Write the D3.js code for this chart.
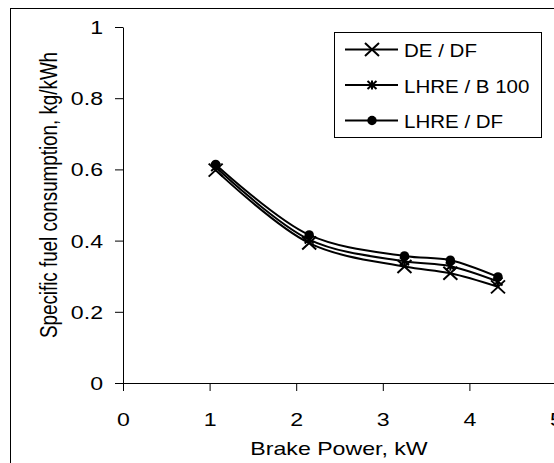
<!DOCTYPE html>
<html>
<head>
<meta charset="utf-8">
<script src="https://cdn.jsdelivr.net/npm/d3@7"></script>
<style>
  body { margin: 0; background: #fff; }
  text { font-family: "Liberation Sans", Arial, sans-serif; fill: #000; }
</style>
</head>
<body>
<svg id="chart" width="554" height="463"></svg>
<script>
// brake power, kW
var power = [1.07, 2.15, 3.25, 3.78, 4.33]
var deDF = [0.598, 0.393, 0.327, 0.308, 0.27]
var lhreB100 = [0.607, 0.403, 0.342, 0.328, 0.285]
var lhreDF = [0.614, 0.416, 0.357, 0.345, 0.298]
var seriesNames = ["DE / DF", "LHRE / B 100", "LHRE / DF"]
var markers = ["cross", "star", "dot"]
var xTicks = [0, 1, 2, 3, 4, 5]
var yTicks = [0, 0.2, 0.4, 0.6, 0.8, 1]

var series = [deDF, lhreB100, lhreDF].map((vals, i) => ({
    name: seriesNames[i], marker: markers[i],
    points: vals.map((v, j) => ({x: power[j], y: v}))
}))

// the source picture is stretched sideways, so the text is too
var stretch = 1.25

var svg = d3.select("#chart")

// outer chart frame (cut off at right/bottom like the source)
svg.append("rect")
    .attr("x", 10.5).attr("y", 8.5)
    .attr("width", 600).attr("height", 500)
    .attr("fill", "none").attr("stroke", "#000").attr("stroke-width", 1)

var x = d3.scaleLinear().domain([0, 5]).range([123, 556])
var y = d3.scaleLinear().domain([0, 1]).range([383, 27])

svg.append("g")
    .attr("transform", "translate(0," + y(0) + ")")
    .call(d3.axisBottom(x).tickValues(xTicks).tickFormat(d3.format("d")).tickSize(8).tickSizeOuter(0))
    .call(g => g.selectAll("text")
        .attr("y", 43).attr("dy", 0)
        .attr("transform", "scale(" + stretch + ",1)")
        .style("font-size", "18.5px"))

svg.append("g")
    .attr("transform", "translate(" + x(0) + ",0)")
    .call(d3.axisLeft(y).tickValues(yTicks).tickFormat(d => d == 0 || d == 1 ? d : d.toFixed(1)).tickSize(8).tickSizeOuter(0))
    .call(g => g.selectAll("text")
        .attr("x", -20 / stretch).attr("dy", "0.35em")
        .attr("transform", "scale(" + stretch + ",1)")
        .style("font-size", "18.5px"))

svg.selectAll(".domain, .tick line").attr("stroke", "#000")

svg.append("text")
    .attr("transform", "translate(339,455) scale(" + stretch + ",1)")
    .attr("text-anchor", "middle")
    .style("font-size", "18.5px")
    .text("Brake Power, kW")

svg.append("text")
    .attr("transform", "translate(57,195) rotate(-90) scale(1," + stretch + ")")
    .attr("text-anchor", "middle")
    .style("font-size", "18.8px")
    .text("Specific fuel consumption, kg/kWh")

var line = d3.line()
    .x(d => x(d.x))
    .y(d => y(d.y))
    .curve(d3.curveCatmullRom.alpha(0.5))

function drawMarker(g, type) {
    if (type == "cross") {
        g.append("path").attr("d", "M-7,-6.5L7,6.5M-7,6.5L7,-6.5")
            .attr("stroke", "#000").attr("stroke-width", 2)
    } else if (type == "star") {
        g.append("path").attr("d", "M-4.5,-4L4.5,4M-4.5,4L4.5,-4M0,-4.5L0,4.5")
            .attr("stroke", "#000").attr("stroke-width", 2)
    } else {
        g.append("circle").attr("r", 4.7).attr("fill", "#000")
    }
}

series.forEach(s => {
    svg.append("path")
        .datum(s.points)
        .attr("d", line)
        .attr("fill", "none")
        .attr("stroke", "#000")
        .attr("stroke-width", 2)
    s.points.forEach(p => {
        var g = svg.append("g").attr("transform", "translate(" + x(p.x) + "," + y(p.y) + ")")
        drawMarker(g, s.marker)
    })
})

// legend
var legend = svg.append("g")
legend.append("rect")
    .attr("x", 334.5).attr("y", 32.5)
    .attr("width", 207).attr("height", 105)
    .attr("fill", "#fff").attr("stroke", "#000").attr("stroke-width", 1)

series.forEach((s, i) => {
    var ly = 49.5 + i * 35.5
    legend.append("line")
        .attr("x1", 345).attr("x2", 398)
        .attr("y1", ly).attr("y2", ly)
        .attr("stroke", "#000").attr("stroke-width", 2)
    drawMarker(legend.append("g").attr("transform", "translate(372," + ly + ")"), s.marker)
    legend.append("text")
        .attr("transform", "translate(404," + (ly + 7.5) + ") scale(1.08,1)")
        .style("font-size", "19px")
        .text(s.name)
})
</script>
</body>
</html>
